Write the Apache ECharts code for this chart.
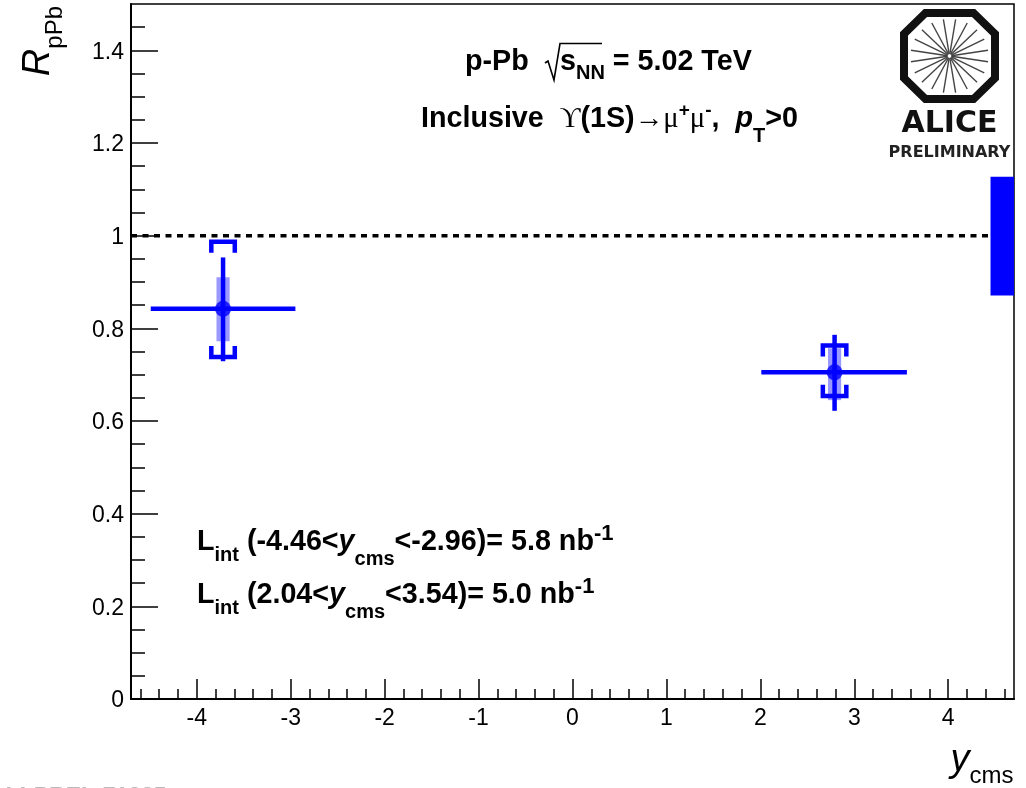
<!DOCTYPE html>
<html><head><meta charset="utf-8">
<style>html,body{margin:0;padding:0;background:#fff}#c{width:1026px;height:788px}</style>
<script src="https://cdn.jsdelivr.net/npm/echarts@6/dist/echarts.min.js"></script>
</head><body><div id="c"></div>
<script>
// ---- data ----
const xVals   = [-3.72, 2.79];
const yVals   = [0.842, 0.705];
const xLow    = [-4.49, 2.01];
const xHigh   = [-2.95, 3.56];
const statLow = [0.729, 0.622];
const statHigh= [0.953, 0.786];
const uncLow  = [0.772, 0.645];
const uncHigh = [0.910, 0.757];
const corrLow = [0.738, 0.654];
const corrHigh= [0.987, 0.763];
const uncHalf = 0.07, corrHalf = 0.125;
const globalBox = [4.45, 4.7, 0.871, 1.127];
const refLine = [[-4.7, 1], [4.45, 1]];
const xTicks = [-4,-3,-2,-1,0,1,2,3,4];
const yTicks = [0,0.2,0.4,0.6,0.8,1,1.2,1.4];
const xMinorTicks = [-4.6,-4.4,-4.2,-3.8,-3.6,-3.4,-3.2,-2.8,-2.6,-2.4,-2.2,-1.8,-1.6,-1.4,-1.2,-0.8,-0.6,-0.4,-0.2,0.2,0.4,0.6,0.8,1.2,1.4,1.6,1.8,2.2,2.4,2.6,2.8,3.2,3.4,3.6,3.8,4.2,4.4,4.6];
const yMinorTicks = [0.05,0.1,0.15,0.25,0.3,0.35,0.45,0.5,0.55,0.65,0.7,0.75,0.85,0.9,0.95,1.05,1.1,1.15,1.25,1.3,1.35,1.45];
const BLUE = '#0000ff', PALE = '#9999ff';
const FONT = '"Liberation Sans", Arial, sans-serif';
const SERIF = '"Liberation Serif","DejaVu Serif",serif';

const chart = echarts.init(document.getElementById('c'), null, {renderer:'canvas'});

function errorItem(params, api){
  const i = params.dataIndex;
  const c = (x,y)=>api.coord([x,y]);
  const x = xVals[i], y = yVals[i];
  const line = (a,b,w)=>({type:'line',shape:{x1:a[0],y1:a[1],x2:b[0],y2:b[1]},style:{stroke:BLUE,lineWidth:w}});
  const tl=c(x-uncHalf,uncHigh[i]), br=c(x+uncHalf,uncLow[i]);
  const legH = 0.024;
  const bl=x-corrHalf, br2=x+corrHalf;
  const bracket = (v,dir)=>({type:'polyline',shape:{points:[c(bl,v+dir*legH),c(bl,v),c(br2,v),c(br2,v+dir*legH)]},style:{stroke:BLUE,lineWidth:4.5,fill:null}});
  return {type:'group',children:[
    {type:'rect',shape:{x:tl[0],y:tl[1],width:br[0]-tl[0],height:br[1]-tl[1]},style:{fill:PALE}},
    line(c(x,statLow[i]),c(x,statHigh[i]),4.5),
    line(c(xLow[i],y),c(xHigh[i],y),4.5),
    bracket(corrHigh[i],-1),
    bracket(corrLow[i],1)
  ]};
}
function boxItem(params, api){
  const a=api.coord([globalBox[0],globalBox[3]]), b=api.coord([globalBox[1],globalBox[2]]);
  return {type:'rect',shape:{x:a[0],y:a[1],width:b[0]-a[0],height:b[1]-a[1]},style:{fill:BLUE}};
}

// ALICE logo decoration
const cx=949.5, cy=56, hx=45.5, hy=43, f=24;
const logo=[{type:'polygon',shape:{points:[[cx-f,cy-hy],[cx+f,cy-hy],[cx+hx,cy-hy+21],[cx+hx,cy+hy-21],[cx+f,cy+hy],[cx-f,cy+hy],[cx-hx,cy+hy-21],[cx-hx,cy-hy+21]]},
  style:{fill:'#fff',stroke:'#111',lineWidth:8,lineJoin:'miter'},z:20}];
const nRays=20;
for(let k=0;k<nRays;k++){const t=(k+0.5)/nRays*2*Math.PI;
  logo.push({type:'line',shape:{x1:cx+2*Math.cos(t),y1:cy+2*Math.sin(t),x2:cx+39*Math.cos(t),y2:cy+37*Math.sin(t)},style:{stroke:'#444',lineWidth:1.4},z:21});}

const SZ=28.7, SB=20;
const mainRich = {
  b:{fontFamily:FONT,fontWeight:'bold',fontSize:SZ,color:'#000'},
  bi:{fontFamily:FONT,fontWeight:'bold',fontStyle:'italic',fontSize:SZ,color:'#000'},
  sub:{fontFamily:FONT,fontWeight:'bold',fontSize:SB,color:'#000',padding:[22,0,0,0]},
  subi:{fontFamily:FONT,fontWeight:'bold',fontSize:SB,color:'#000',padding:[26,0,0,0]},
  subf:{fontFamily:FONT,fontWeight:'bold',fontSize:SB,color:'#000',padding:[35,0,0,0]},
  sup:{fontFamily:FONT,fontWeight:'bold',fontSize:22,color:'#000',padding:[0,0,16,0]},
  sym:{fontFamily:SERIF,fontSize:SZ,color:'#000'},
  symsup:{fontFamily:FONT,fontWeight:'bold',fontSize:19,color:'#000',padding:[0,0,16,0]}
};
const txt=(x,y,t)=>({type:'text',x,y,z:22,style:{text:t,rich:mainRich,x:0,y:0,verticalAlign:'middle',align:'left',fontFamily:FONT}});

const graphic=[
  ...logo,
  {type:'text',x:949.5,y:124,z:22,style:{text:'ALICE',font:'bold 30px "DejaVu Sans"',fill:'#111',align:'center',verticalAlign:'middle'}},
  {type:'text',x:949.5,y:153,z:22,style:{text:'PRELIMINARY',font:'bold 16px "DejaVu Sans"',fill:'#222',align:'center',verticalAlign:'middle'}},
  {type:'text',x:-11,y:786,z:22,style:{text:'ALI-PREL-71885',font:'bold 23px "Liberation Sans"',fill:'#bbb',align:'left',verticalAlign:'top'}},
  txt(465,62,'{b|p-Pb}'),
  {type:'polyline',z:22,shape:{points:[[545,63],[548,61],[554,80],[560,43.5],[602,43.5]]},style:{stroke:'#000',lineWidth:1.6,fill:null}},
  txt(560,62,'{b|s}{sub|NN}{b| = 5.02 TeV}'),
  txt(421,119,'{b|Inclusive  }{sym|ϒ}{b|(1S)}{sym|→μ}{symsup|+}{sym|μ}{symsup|-}{b|,  }{bi|p}{subf|T}{b|>0}'),
  txt(197,542,'{b|L}{subi|int}{b| (-4.46<}{bi|y}{subf|cms}{b|<-2.96)= 5.8 nb}{sup|-1}'),
  txt(197,595,'{b|L}{subi|int}{b| (2.04<}{bi|y}{subf|cms}{b|<3.54)= 5.0 nb}{sup|-1}')
];

const option={
  animation:false,
  backgroundColor:'#fff',
  grid:{left:131,top:4,width:883,height:695,show:true,borderColor:'#000',borderWidth:1.5,backgroundColor:'transparent'},
  xAxis:[{
    type:'value',min:-4.7,max:4.7,position:'bottom',splitLine:{show:false},
    axisLine:{onZero:false,lineStyle:{color:'#000',width:2}},
    axisTick:{inside:true,length:20,customValues:xTicks,lineStyle:{color:'#000',width:1.5}},
    axisLabel:{customValues:xTicks,fontFamily:FONT,fontSize:23,color:'#000',margin:8,showMinLabel:true,showMaxLabel:true},
    name:'{i|y}{s|cms}',nameLocation:'end',nameGap:-32,nameMoveOverlap:false,
    nameTextStyle:{align:'center',verticalAlign:'middle',padding:[122,0,0,0],
      rich:{i:{fontFamily:FONT,fontStyle:'italic',fontSize:38,color:'#000'},s:{fontFamily:FONT,fontSize:24,color:'#000',padding:[32,0,0,0]}}}
  },{
    type:'value',min:-4.7,max:4.7,position:'bottom',show:true,splitLine:{show:false},
    axisLine:{show:false,onZero:false},axisLabel:{show:false},
    axisTick:{inside:true,length:10,customValues:xMinorTicks,lineStyle:{color:'#000',width:1.5}}
  }],
  yAxis:[{
    type:'value',min:0,max:1.5,position:'left',splitLine:{show:false},
    axisLine:{onZero:false,lineStyle:{color:'#000',width:2}},
    axisTick:{inside:true,length:27,customValues:yTicks,lineStyle:{color:'#000',width:1.5}},
    axisLabel:{customValues:yTicks,formatter:'{a|{value}}',margin:7,showMinLabel:true,
      rich:{a:{fontFamily:FONT,fontSize:23,color:'#000',padding:[4,0,0,0]}}},
    name:'{i|R}{s|pPb}',nameLocation:'end',nameRotate:90,nameGap:-2,nameMoveOverlap:false,
    nameTextStyle:{align:'right',verticalAlign:'middle',padding:[0,0,186,0],
      rich:{i:{fontFamily:FONT,fontStyle:'italic',fontSize:38,color:'#000'},s:{fontFamily:FONT,fontSize:24,color:'#000',padding:[34,0,0,0]}}}
  },{
    type:'value',min:0,max:1.5,position:'left',show:true,splitLine:{show:false},
    axisLine:{show:false,onZero:false},axisLabel:{show:false},
    axisTick:{inside:true,length:14,customValues:yMinorTicks,lineStyle:{color:'#000',width:1.5}}
  }],
  graphic:graphic,
  series:[
    {type:'line',data:refLine,symbol:'none',silent:true,z:2,lineStyle:{color:'#000',width:3.5,type:[6,5.5]}},
    {type:'custom',data:[globalBox],renderItem:boxItem,silent:true,z:3,clip:false},
    {type:'custom',data:xVals.map((x,i)=>[x,yVals[i]]),renderItem:errorItem,silent:true,z:4,encode:{x:0,y:1}},
    {type:'scatter',data:xVals.map((x,i)=>[x,yVals[i]]),symbol:'circle',symbolSize:16,silent:true,z:5,itemStyle:{color:BLUE}}
  ]
};
chart.setOption(option);
</script></body></html>
